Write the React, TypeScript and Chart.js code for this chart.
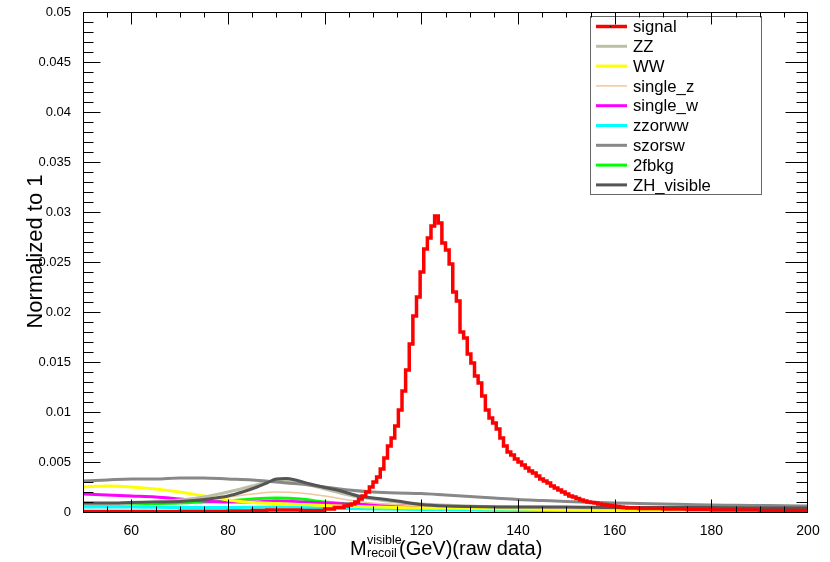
import { useEffect, useRef } from 'react';
import { Chart, registerables } from 'chart.js';

Chart.register(...registerables);

const FONT = '"Liberation Sans", Arial, Helvetica, sans-serif';

// ---- tick labels ----
const xTicks = [60, 80, 100, 120, 140, 160, 180, 200];
const yTicks = [0, 0.005, 0.01, 0.015, 0.02, 0.025, 0.03, 0.035, 0.04, 0.045, 0.05];

// ---- signal (histogram, bin starts) ----
const signalX = [
  50, 60, 70, 80, 85, 88, 92, 95, 100, 102,
  104, 104.75, 105.5, 106.25, 107, 107.75, 108.5, 109.25, 110, 110.75,
  111.5, 112.25, 113, 113.75, 114.5, 115.25, 116, 116.75, 117.5, 118.25,
  119, 119.75, 120.5, 121.25, 122, 122.75, 123.5, 124.25, 125, 125.75,
  126.5, 127.25, 128, 128.75, 129.5, 130.25, 131, 131.75, 132.5, 133.25,
  134, 134.75, 135.5, 136.25, 137, 137.75, 138.5, 139.25, 140, 140.75,
  141.5, 142.25, 143, 143.75, 144.5, 145.25, 146, 146.75, 147.5, 148.25,
  149, 149.75, 150.5, 151.25, 152, 152.75, 153.5, 154.25, 155, 155.75,
  156.5, 157.25, 158, 158.75, 159.5, 160.25, 161, 161.75,
  162.5, 165, 170, 175, 180, 190, 200,
];
const signalY = [
  0.00005, 0.00005, 0.00008, 0.0001, 0.00015, 0.0002, 0.0002, 0.00015, 0.0003, 0.00045,
  0.0006, 0.0007, 0.0008, 0.001, 0.0013, 0.0016, 0.002, 0.0025, 0.003, 0.0035,
  0.0043, 0.0054, 0.0066, 0.0074, 0.0086, 0.0102, 0.0121, 0.0142, 0.0168, 0.0196,
  0.0215, 0.024, 0.0263, 0.0274, 0.0286, 0.0296, 0.0289, 0.0269, 0.0262, 0.0248,
  0.022, 0.0211, 0.018, 0.0174, 0.0158, 0.0149, 0.0136, 0.0129, 0.0116, 0.0102,
  0.0094, 0.0089, 0.0083, 0.0074, 0.0066, 0.006, 0.0057, 0.0053, 0.005, 0.0047,
  0.0044, 0.0041, 0.0039, 0.0036, 0.0033, 0.0031, 0.0029, 0.0026, 0.0024, 0.0022,
  0.002, 0.0018, 0.0016, 0.0015, 0.00135, 0.0012, 0.0011, 0.001, 0.00095, 0.0009,
  0.0008, 0.00075, 0.0007, 0.00065, 0.0006, 0.00055, 0.0005, 0.00045,
  0.0004, 0.00035, 0.0003, 0.00025, 0.0002, 0.00015, 0.00015,
];

// ---- backgrounds ----
const zzX = [50, 55, 60, 65, 70, 75, 80, 85, 88, 90, 92, 95, 100, 105, 110, 115, 120, 130, 140, 150, 160, 170, 180, 190, 200];
const zzY = [0.0008, 0.0008, 0.0009, 0.001, 0.0012, 0.0015, 0.002, 0.0026, 0.003, 0.0031, 0.0031, 0.0029, 0.0023, 0.0017, 0.0013, 0.001, 0.0008, 0.0006, 0.0005, 0.00045, 0.0004, 0.00035, 0.00035, 0.0003, 0.0003];

const wwX = [50, 55, 60, 65, 70, 75, 80, 85, 90, 95, 100, 110, 120, 130, 140, 150, 160, 170, 180, 190, 200];
const wwY = [0.0025, 0.0026, 0.0025, 0.0023, 0.002, 0.0016, 0.0012, 0.00095, 0.00085, 0.00075, 0.00065, 0.0005, 0.0004, 0.00035, 0.0003, 0.0002, 0.00015, 0.0001, 0.00005, 0.00003, 0.00002];

const singleZX = [50, 60, 70, 75, 80, 85, 90, 95, 100, 105, 110, 120, 130, 140, 150, 160, 170, 180, 190, 200];
const singleZY = [0.0009, 0.00095, 0.0011, 0.0013, 0.0015, 0.0018, 0.002, 0.0019, 0.0016, 0.0012, 0.0009, 0.0006, 0.0004, 0.0003, 0.0002, 0.0001, 0.00005, 0.00002, 0.00001, 0];

const singleWX = [50, 55, 60, 65, 70, 75, 80, 85, 90, 95, 100, 110, 120, 130, 140, 150, 160, 170, 180, 190, 200];
const singleWY = [0.0018, 0.0017, 0.0016, 0.0015, 0.0013, 0.0011, 0.001, 0.001, 0.0011, 0.001, 0.0009, 0.0007, 0.0006, 0.0005, 0.0004, 0.00035, 0.0003, 0.0002, 0.00015, 0.0001, 0.00005];

const zzorwwX = [50, 60, 70, 80, 90, 100, 110, 120, 130, 140, 150, 160, 170, 180, 190, 200];
const zzorwwY = [0.0005, 0.0005, 0.00045, 0.00045, 0.0005, 0.0004, 0.0003, 0.00025, 0.0002, 0.00015, 0.00012, 0.0001, 0.00008, 0.00006, 0.00005, 0.00005];

const szorswX = [50, 55, 60, 65, 70, 75, 80, 85, 90, 95, 100, 105, 110, 115, 120, 125, 130, 135, 140, 145, 150, 155, 160, 165, 170, 175, 180, 185, 190, 195, 200];
const szorswY = [0.0031, 0.0032, 0.0033, 0.0033, 0.0034, 0.0034, 0.0033, 0.0032, 0.003, 0.0028, 0.0025, 0.0022, 0.002, 0.0019, 0.00185, 0.0017, 0.00155, 0.0014, 0.00125, 0.00115, 0.00105, 0.00098, 0.0009, 0.00085, 0.0008, 0.00075, 0.0007, 0.00068, 0.00065, 0.00062, 0.0006];

const fbkgX = [50, 60, 70, 75, 80, 85, 90, 95, 100, 105, 110, 120, 130, 140, 150, 160, 170, 180, 190, 200];
const fbkgY = [0.0007, 0.0008, 0.0009, 0.001, 0.0011, 0.0013, 0.0014, 0.0013, 0.001, 0.0008, 0.0007, 0.0006, 0.0005, 0.00045, 0.0004, 0.0004, 0.0004, 0.0004, 0.0004, 0.0004];

const zhX = [50, 55, 60, 65, 70, 73, 76, 80, 83, 86, 88, 90, 92, 94, 97, 100, 103, 107, 111, 115, 120, 125, 130, 140, 150, 160, 170, 180, 190, 200];
const zhY = [0.0009, 0.0009, 0.00095, 0.001, 0.00105, 0.00115, 0.0013, 0.0016, 0.002, 0.0025, 0.0029, 0.0033, 0.00335, 0.0032, 0.0028, 0.00245, 0.00215, 0.0016, 0.00135, 0.0011, 0.00075, 0.0006, 0.00055, 0.0005, 0.0005, 0.00045, 0.00045, 0.00045, 0.0004, 0.0004];

const pts = (xs: number[], ys: number[]) => xs.map((x, i) => ({ x, y: ys[i] }));

const series = [
  { label: 'signal', color: '#ff0000', width: 3.5, xs: signalX, ys: signalY, stepped: true, order: 0 },
  { label: 'ZZ', color: '#bfbfa8', width: 3, xs: zzX, ys: zzY, stepped: false, order: 3 },
  { label: 'WW', color: '#ffff00', width: 3, xs: wwX, ys: wwY, stepped: false, order: 3 },
  { label: 'single_z', color: '#f3c59b', width: 1.5, xs: singleZX, ys: singleZY, stepped: false, order: 3 },
  { label: 'single_w', color: '#ff00ff', width: 3, xs: singleWX, ys: singleWY, stepped: false, order: 3 },
  { label: 'zzorww', color: '#00ffff', width: 3, xs: zzorwwX, ys: zzorwwY, stepped: false, order: 3 },
  { label: 'szorsw', color: '#888888', width: 3, xs: szorswX, ys: szorswY, stepped: false, order: 2 },
  { label: '2fbkg', color: '#00ff00', width: 3, xs: fbkgX, ys: fbkgY, stepped: false, order: 3 },
  { label: 'ZH_visible', color: '#555555', width: 3, xs: zhX, ys: zhY, stepped: false, order: 1 },
];

const rootStyle = {
  id: 'rootStyle',
  afterDraw(chart: any) {
    const { ctx, chartArea: a, scales } = chart;
    const xs = scales.x;
    const ys = scales.y;
    ctx.save();

    // legend box
    const lx = 590.5, ly = 16.5, lw = 171, lh = 178;
    ctx.fillStyle = '#ffffff';
    ctx.fillRect(lx, ly, lw, lh);
    ctx.strokeStyle = '#666666';
    ctx.lineWidth = 1;
    ctx.strokeRect(lx, ly, lw, lh);
    ctx.font = `16.7px ${FONT}`;
    ctx.textAlign = 'left';
    ctx.textBaseline = 'middle';
    series.forEach((s, i) => {
      const cy = 26.5 + i * 19.8;
      ctx.strokeStyle = s.color;
      ctx.lineWidth = s.width;
      ctx.beginPath();
      ctx.moveTo(596, cy);
      ctx.lineTo(627, cy);
      ctx.stroke();
      if (i === 0) {
        ctx.fillStyle = '#000';
        ctx.fillRect(610, cy - 0.5, 1, 1);
      }
      ctx.fillStyle = '#000';
      ctx.fillText(s.label, 633, cy + 1);
    });

    // frame
    const L = Math.round(a.left) + 0.5;
    const R = Math.round(a.right) - 0.5;
    const T = Math.round(a.top) + 0.5;
    const B = Math.round(a.bottom) + 0.5;
    ctx.strokeStyle = '#000';
    ctx.lineWidth = 1;
    ctx.strokeRect(L, T, R - L, B - T);

    // x ticks (every 5, major every 20)
    ctx.beginPath();
    for (let v = 55; v < 200; v += 5) {
      const px = Math.round(xs.getPixelForValue(v)) + 0.5;
      const major = v % 20 === 0;
      ctx.moveTo(px, B);
      ctx.lineTo(px, B - (major ? 13 : 6));
      ctx.moveTo(px, T);
      ctx.lineTo(px, T + (major ? 12 : 5));
    }
    // y ticks (every 0.001, major every 0.005)
    for (let k = 1; k < 50; k++) {
      const py = Math.round(ys.getPixelForValue(k * 0.001)) + 0.5;
      const major = k % 5 === 0;
      ctx.moveTo(L, py);
      ctx.lineTo(L + (major ? 17 : 10), py);
      ctx.moveTo(R, py);
      ctx.lineTo(R - (major ? 22 : 11), py);
    }
    ctx.stroke();

    // x title
    ctx.fillStyle = '#000';
    ctx.textBaseline = 'alphabetic';
    ctx.textAlign = 'left';
    ctx.font = `20px ${FONT}`;
    ctx.fillText('M', 350, 555);
    ctx.font = `12.5px ${FONT}`;
    ctx.fillText('visible', 367, 544);
    ctx.fillText('recoil', 367, 557);
    ctx.font = `20px ${FONT}`;
    ctx.fillText('(GeV)(raw data)', 399, 555);

    // y title
    ctx.translate(42, 251.5);
    ctx.rotate(-Math.PI / 2);
    ctx.textAlign = 'center';
    ctx.font = `22px ${FONT}`;
    ctx.fillText('Normalized to 1', 0, 0);

    ctx.restore();
  },
};

export default function App() {
  const ref = useRef<HTMLCanvasElement | null>(null);
  useEffect(() => {
    document.body.style.margin = '0';
    const canvas = ref.current;
    if (!canvas) return;
    const chart = new Chart(canvas, {
      type: 'line',
      data: {
        datasets: series.map((s) => ({
          label: s.label,
          data: pts(s.xs, s.ys),
          borderColor: s.color,
          backgroundColor: s.color,
          borderWidth: s.width,
          pointRadius: 0,
          fill: false,
          stepped: s.stepped,
          tension: s.stepped ? 0 : 0.3,
          cubicInterpolationMode: s.stepped ? 'default' : 'monotone',
          order: s.order,
        })),
      },
      options: {
        responsive: false,
        animation: false,
        devicePixelRatio: 1,
        layout: { padding: { top: 12, right: 22, left: 0, bottom: 0 } },
        plugins: { legend: { display: false }, tooltip: { enabled: false } },
        scales: {
          x: {
            type: 'linear',
            min: 50,
            max: 200,
            grid: { display: false },
            border: { display: false },
            afterFit: (s: any) => { s.height = 50; },
            afterBuildTicks: (s: any) => { s.ticks = xTicks.map((v) => ({ value: v })); },
            ticks: {
              font: { family: FONT, size: 14 },
              color: '#000',
              padding: 3,
              maxRotation: 0,
              autoSkip: false,
            },
          },
          y: {
            type: 'linear',
            min: 0,
            max: 0.05,
            grid: { display: false },
            border: { display: false },
            afterFit: (s: any) => { s.width = 83; },
            afterBuildTicks: (s: any) => { s.ticks = yTicks.map((v) => ({ value: v })); },
            ticks: {
              font: { family: FONT, size: 13 },
              color: '#000',
              padding: 4,
              autoSkip: false,
              callback: (v: any) => (v === 0 ? '0' : String(+Number(v).toFixed(3))),
            },
          },
        },
      } as any,
      plugins: [rootStyle],
    });
    return () => chart.destroy();
  }, []);
  return (
    <div style={{ width: 830, height: 562, background: '#fff' }}>
      <canvas ref={ref} width={830} height={562} style={{ display: 'block', width: 830, height: 562 }} />
    </div>
  );
}
